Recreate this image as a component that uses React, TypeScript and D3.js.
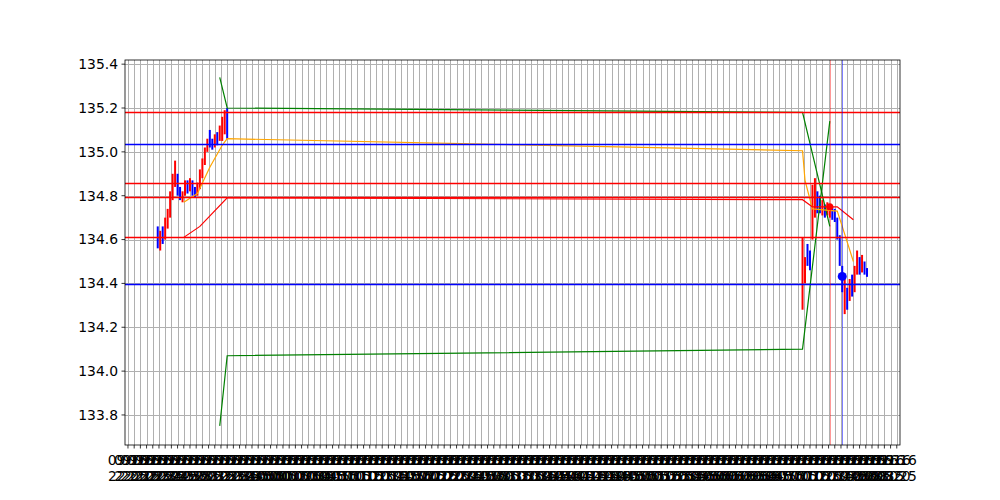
import * as d3 from "d3";

// axis origin: first tick of the time axis
const t0 = new Date(2022, 8, 15, 22, 5);
const at = (m: number) => new Date(t0.getTime() + m * 60000);

// candles: minutes from t0, high, low, up(1)/down(0)
const leftMinutes = d3.range(24, 81, 2);
const rightMinutes = d3.range(544, 597, 2);
const candleMinutes = [...leftMinutes, ...rightMinutes];

const highs = [
  134.66, 134.64, 134.66, 134.7, 134.74, 134.82, 134.9, 134.96, 134.9, 134.84,
  134.82, 134.87, 134.87, 134.88, 134.87, 134.84, 134.86, 134.92, 134.97, 135.02,
  135.06, 135.1, 135.06, 135.08, 135.09, 135.12, 135.16, 135.19, 135.2,
  134.61, 134.52, 134.58, 134.55, 134.85, 134.88, 134.82, 134.8, 134.78, 134.76,
  134.77, 134.76, 134.75, 134.74, 134.7, 134.62, 134.48, 134.42, 134.38, 134.42,
  134.44, 134.48, 134.55, 134.52, 134.53, 134.5, 134.47,
];
const lows = [
  134.56, 134.55, 134.58, 134.6, 134.65, 134.7, 134.78, 134.84, 134.8, 134.78,
  134.77, 134.8, 134.81, 134.82, 134.8, 134.79, 134.8, 134.83, 134.88, 134.94,
  135.0, 135.02, 135.01, 135.02, 135.03, 135.05, 135.05, 135.08, 135.06,
  134.28, 134.4, 134.48, 134.46, 134.6, 134.7, 134.72, 134.72, 134.71, 134.7,
  134.71, 134.7, 134.69, 134.68, 134.6, 134.48, 134.36, 134.26, 134.28, 134.32,
  134.34, 134.36, 134.44, 134.44, 134.45, 134.44, 134.43,
];
const ups = [
  0, 1, 0, 1, 1, 1, 1, 1, 0, 0, 1, 1, 0, 1, 0, 0, 1, 1, 1, 1, 1, 0, 0, 1, 0, 1, 1, 1, 0,
  1, 1, 0, 0, 1, 1, 0, 0, 1, 0, 1, 1, 0, 0, 0, 0, 0, 1, 0, 1, 0, 1, 1, 0, 1, 0, 0,
];

// indicator lines: [minute, price]
const greenUpper: [number, number][] = [[74, 135.34], [80, 135.2], [544, 135.18], [566, 134.66]];
const greenLower: [number, number][] = [[74, 133.75], [80, 134.07], [544, 134.1], [566, 135.14]];
const orangeLine: [number, number][] = [
  [45, 134.77], [56, 134.81], [66, 134.93], [76, 135.03], [80, 135.06],
  [544, 135.005], [546, 134.87], [552, 134.74], [572, 134.73], [576, 134.66], [585, 134.5],
];
const redLine: [number, number][] = [
  [45, 134.61], [58, 134.66], [80, 134.79], [544, 134.782], [552, 134.749], [572, 134.749], [585, 134.69],
];

const redLevels = [135.18, 134.858, 134.796, 134.61];
const blueLevels = [135.038, 134.398];
const redMarker: [number, number] = [566, 134.75];
const blueMarker: [number, number] = [576, 134.432];

const yTicks = [133.8, 134.0, 134.2, 134.4, 134.6, 134.8, 135.0, 135.2, 135.4];
const xTickMinutes = d3.range(0, 621, 5);

export default function App() {
  const width = 1000;
  const height = 500;
  const L = 125, R = 900, T = 60, B = 445;

  const x = d3.scaleTime().domain([at(-2.4), at(622.6)]).range([L, R]);
  const y = d3.scaleLinear().domain([133.663, 135.419]).range([B, T]);
  const snap = (v: number) => Math.round(v) + 0.5;
  const fmtDay = d3.timeFormat("%m-%d");
  const fmtTime = d3.timeFormat("%H:%M");
  const line = d3
    .line<[number, number]>()
    .x((d) => x(at(d[0])))
    .y((d) => y(d[1]));

  const font = "DejaVu Sans, sans-serif";

  return (
    <svg
      width={width}
      height={height}
      style={{ position: "absolute", left: 0, top: 0, background: "#fff" }}
    >
      <rect width={width} height={height} fill="#fff" />
      {/* grid */}
      {xTickMinutes.map((m) => (
        <line key={"gx" + m} x1={snap(x(at(m)))} x2={snap(x(at(m)))} y1={T} y2={B} stroke="#b0b0b0" strokeWidth={1} />
      ))}
      {yTicks.map((v) => (
        <line key={"gy" + v} x1={L} x2={R} y1={snap(y(v))} y2={snap(y(v))} stroke="#b0b0b0" strokeWidth={1} />
      ))}
      {/* candles */}
      {candleMinutes.map((m, i) => (
        <line
          key={"c" + i}
          x1={x(at(m))}
          x2={x(at(m))}
          y1={y(highs[i])}
          y2={y(lows[i])}
          stroke={ups[i] ? "#ff0000" : "#0000ff"}
          strokeWidth={2}
        />
      ))}
      {/* indicators */}
      <path d={line(greenUpper) ?? ""} fill="none" stroke="#008000" strokeWidth={1.2} />
      <path d={line(greenLower) ?? ""} fill="none" stroke="#008000" strokeWidth={1.2} />
      <path d={line(orangeLine) ?? ""} fill="none" stroke="#ffa500" strokeWidth={1.2} />
      <path d={line(redLine) ?? ""} fill="none" stroke="#ff0000" strokeWidth={1.2} />
      {/* levels */}
      {redLevels.map((v) => (
        <line key={"r" + v} x1={L} x2={R} y1={snap(y(v))} y2={snap(y(v))} stroke="#ff0000" strokeWidth={1.3} />
      ))}
      {blueLevels.map((v) => (
        <line key={"b" + v} x1={L} x2={R} y1={snap(y(v))} y2={snap(y(v))} stroke="#0000ff" strokeWidth={1.3} />
      ))}
      <line x1={snap(x(at(redMarker[0])))} x2={snap(x(at(redMarker[0])))} y1={T} y2={B} stroke="#ff0000" strokeWidth={1} opacity={0.4} />
      <line x1={snap(x(at(blueMarker[0])))} x2={snap(x(at(blueMarker[0])))} y1={T} y2={B} stroke="#0000ff" strokeWidth={1} opacity={0.5} />
      <circle cx={x(at(redMarker[0]))} cy={y(redMarker[1])} r={3.5} fill="#ff0000" />
      <circle cx={x(at(blueMarker[0]))} cy={y(blueMarker[1])} r={4.5} fill="#0000ff" />
      {/* spines */}
      <rect x={L} y={T} width={R - L} height={B - T} fill="none" stroke="#000" strokeWidth={0.8} />
      {/* y axis */}
      {yTicks.map((v) => (
        <g key={"yt" + v}>
          <line x1={L - 3.5} x2={L} y1={y(v)} y2={y(v)} stroke="#000" strokeWidth={0.8} />
          <text x={L - 7} y={y(v)} dy="0.35em" textAnchor="end" fontFamily={font} fontSize={13.9} fill="#000">
            {v.toFixed(1)}
          </text>
        </g>
      ))}
      {/* x axis */}
      {xTickMinutes.map((m) => {
        const px = x(at(m));
        const d = at(m);
        return (
          <g key={"xt" + m}>
            <line x1={px} x2={px} y1={B} y2={B + 3.5} stroke="#000" strokeWidth={0.8} />
            <text x={px} y={B + 20} textAnchor="middle" fontFamily={font} fontSize={13.9} fill="#000">
              {fmtDay(d)}
            </text>
            <text x={px} y={B + 36} textAnchor="middle" fontFamily={font} fontSize={13.9} fill="#000">
              {fmtTime(d)}
            </text>
          </g>
        );
      })}
    </svg>
  );
}
